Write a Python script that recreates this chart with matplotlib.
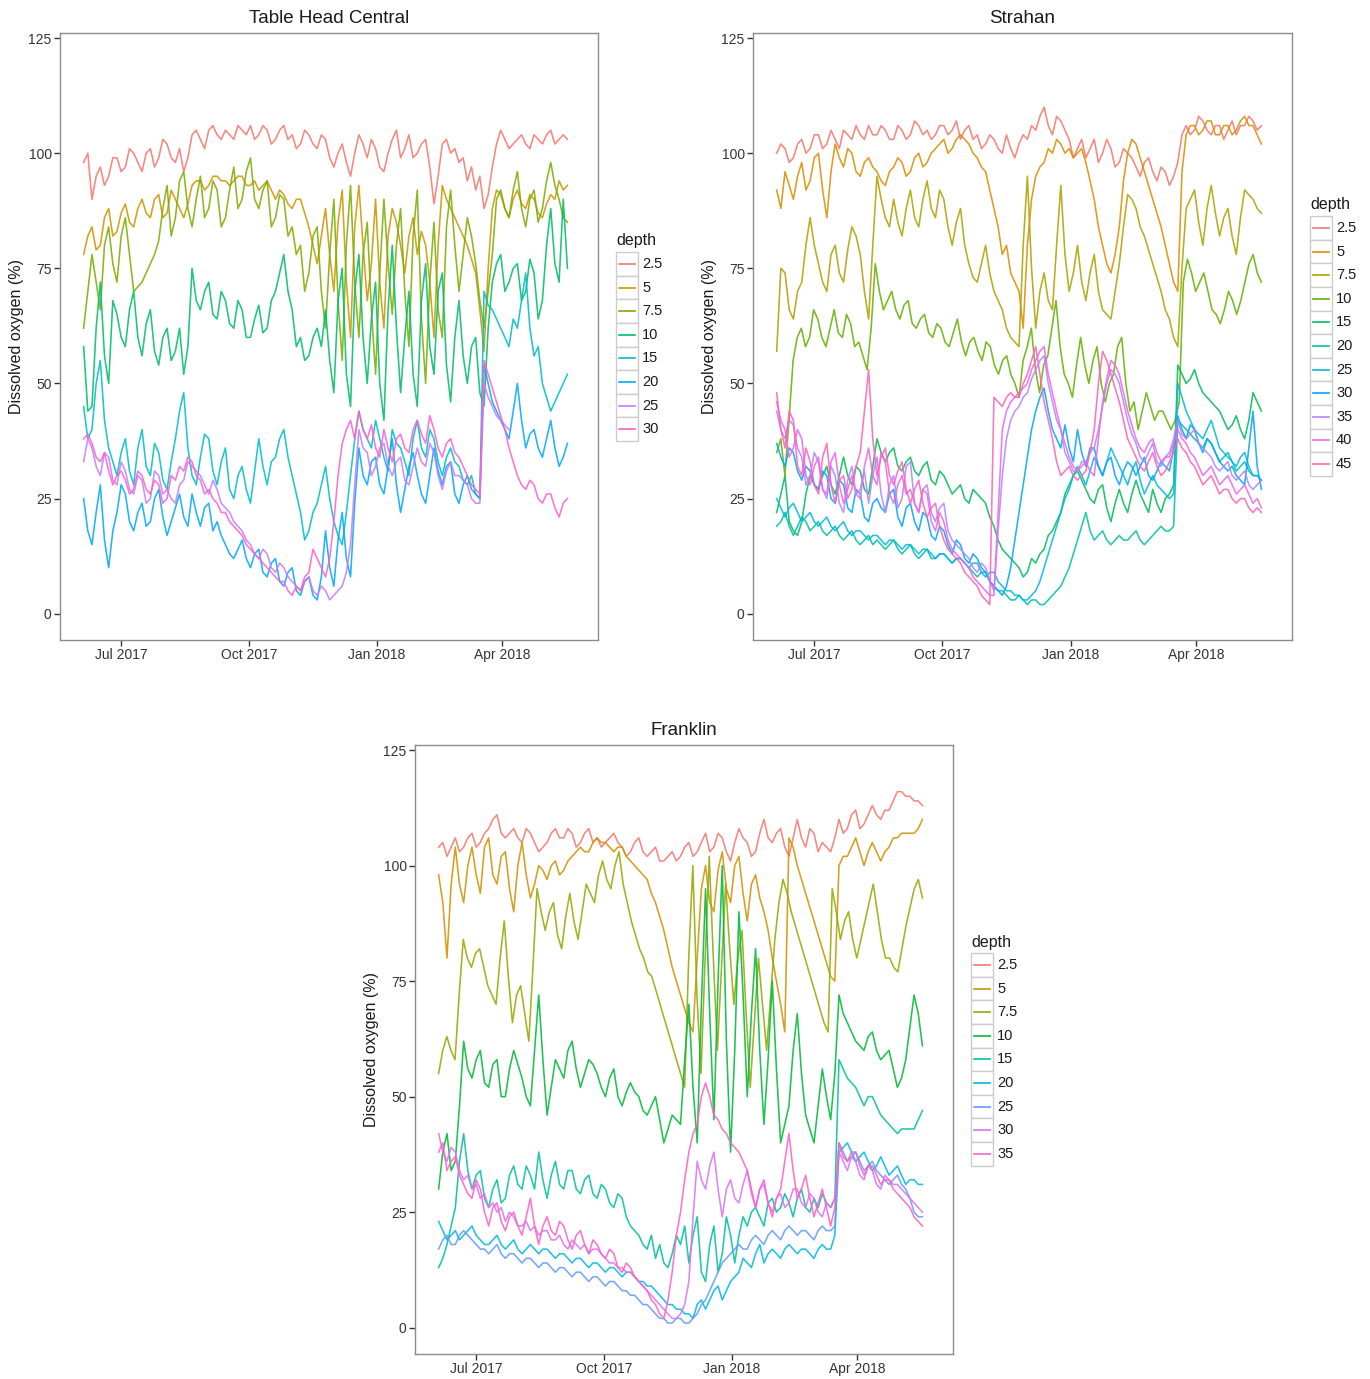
import numpy as np
import pandas as pd
import matplotlib
matplotlib.use("Agg")
import matplotlib.pyplot as plt
import matplotlib.dates as mdates
from matplotlib.patches import Rectangle

plt.rcParams["font.family"] = ["Liberation Sans", "DejaVu Sans"]

# readings are spread evenly from START over 348 days (about every 3 days)
START = "2017-06-04"
SPAN_DAYS = 348

# ---- Table Head Central ----
thc_depths = ["2.5", "5", "7.5", "10", "15", "20", "25", "30"]
thc_d2_5 = [98, 100, 90, 95, 97, 93, 95, 99, 99, 96, 97, 101, 100, 98, 96, 100, 101, 97, 99, 103,
            102, 99, 98, 101, 96, 99, 104, 105, 103, 101, 105, 106, 104, 103, 105, 104, 103, 106, 105, 104,
            106, 103, 104, 106, 105, 102, 103, 105, 106, 103, 104, 101, 102, 105, 104, 102, 101, 104, 103, 99,
            97, 100, 102, 98, 95, 100, 104, 102, 99, 103, 101, 97, 96, 100, 103, 105, 99, 101, 104, 99,
            100, 102, 103, 97, 89, 95, 102, 103, 100, 101, 98, 99, 94, 97, 92, 95, 88, 91, 97, 102,
            105, 103, 101, 102, 103, 104, 102, 101, 104, 103, 102, 104, 105, 102, 103, 104, 103]
thc_d5 = [78, 82, 84, 79, 80, 86, 88, 82, 83, 87, 89, 85, 84, 88, 90, 87, 86, 90, 91, 86,
          87, 92, 90, 88, 86, 89, 93, 94, 94, 92, 93, 95, 95, 94, 94, 93, 94, 95, 95, 93,
          93, 94, 92, 93, 94, 92, 90, 92, 91, 89, 88, 90, 90, 87, 84, 80, 76, 82, 88, 78,
          70, 85, 92, 72, 60, 84, 93, 80, 68, 76, 90, 72, 62, 82, 88, 85, 80, 74, 82, 86,
          78, 83, 80, 72, 60, 80, 93, 90, 88, 86, 84, 82, 80, 77, 74, 66, 57, 75, 88, 92,
          91, 88, 86, 90, 92, 89, 88, 91, 90, 87, 86, 89, 91, 90, 94, 92, 93]
thc_d7_5 = [62, 70, 78, 72, 66, 80, 84, 76, 72, 82, 86, 78, 70, 71, 72, 74, 76, 78, 81, 88,
            93, 82, 86, 94, 96, 88, 84, 90, 95, 86, 88, 94, 92, 84, 86, 92, 97, 88, 90, 96,
            99, 90, 88, 92, 94, 84, 86, 91, 90, 82, 84, 78, 80, 70, 74, 82, 84, 70, 62, 78,
            90, 68, 55, 80, 93, 72, 60, 78, 85, 66, 52, 74, 90, 76, 65, 80, 88, 70, 58, 82,
            92, 64, 50, 72, 85, 66, 60, 84, 92, 80, 70, 78, 86, 82, 76, 68, 62, 70, 78, 90,
            92, 88, 86, 92, 96, 88, 84, 90, 92, 85, 88, 94, 98, 93, 90, 86, 85]
thc_d10 = [58, 44, 45, 62, 72, 56, 50, 68, 65, 60, 58, 66, 70, 60, 56, 63, 66, 57, 54, 60,
           62, 55, 57, 62, 52, 58, 75, 68, 66, 70, 72, 65, 64, 70, 68, 63, 62, 68, 66, 60,
           60, 64, 67, 61, 62, 68, 70, 74, 78, 70, 66, 58, 60, 55, 56, 60, 62, 58, 66, 55,
           48, 68, 75, 52, 45, 70, 78, 60, 50, 64, 72, 50, 42, 66, 80, 62, 48, 60, 70, 52,
           45, 68, 76, 58, 52, 70, 74, 54, 46, 60, 68, 56, 50, 58, 60, 48, 45, 62, 72, 76,
           78, 70, 72, 75, 76, 68, 70, 77, 74, 64, 68, 80, 88, 76, 72, 90, 75]
thc_d15 = [45, 38, 40, 50, 55, 42, 36, 33, 30, 35, 38, 31, 28, 36, 40, 32, 30, 37, 35, 29,
           27, 33, 38, 44, 48, 36, 30, 28, 34, 39, 38, 31, 28, 33, 36, 27, 25, 30, 32, 27,
           24, 31, 38, 32, 28, 33, 34, 38, 40, 34, 30, 26, 22, 16, 18, 22, 24, 28, 32, 25,
           20, 17, 15, 22, 30, 38, 44, 40, 38, 36, 42, 38, 34, 31, 40, 37, 36, 33, 30, 38,
           42, 36, 34, 40, 38, 33, 30, 34, 36, 33, 32, 29, 28, 30, 26, 25, 70, 67, 66, 64,
           62, 60, 58, 64, 62, 68, 74, 62, 56, 58, 50, 47, 44, 46, 48, 50, 52]
thc_d20 = [25, 18, 15, 22, 28, 16, 10, 18, 22, 28, 26, 20, 18, 22, 24, 19, 20, 25, 27, 21,
           17, 20, 23, 26, 21, 19, 26, 22, 19, 23, 24, 18, 20, 17, 15, 13, 12, 14, 16, 12,
           10, 13, 14, 9, 8, 11, 12, 7, 6, 9, 10, 5, 4, 7, 8, 4, 3, 8, 18, 10,
           6, 16, 22, 12, 8, 24, 36, 30, 28, 33, 34, 28, 26, 32, 38, 28, 22, 27, 32, 35,
           30, 26, 24, 30, 36, 31, 28, 32, 33, 26, 24, 28, 30, 27, 26, 25, 54, 50, 46, 44,
           42, 40, 38, 44, 50, 42, 36, 39, 40, 36, 34, 38, 42, 36, 32, 34, 37]
thc_d25 = [33, 38, 36, 32, 30, 35, 34, 29, 28, 33, 31, 27, 26, 30, 29, 24, 25, 31, 30, 26,
           27, 25, 24, 28, 29, 33, 32, 31, 30, 28, 26, 29, 27, 24, 23, 22, 20, 19, 18, 16,
           15, 13, 12, 14, 13, 10, 9, 11, 10, 8, 7, 6, 5, 7, 8, 5, 4, 6, 5, 3,
           4, 5, 6, 9, 15, 28, 40, 36, 35, 30, 32, 36, 37, 32, 30, 33, 34, 29, 28, 32,
           36, 33, 32, 37, 35, 30, 27, 31, 33, 30, 30, 29, 28, 25, 24, 24, 50, 47, 45, 43,
           42, 41, 40]
thc_d25_end_day = 306   # this logger stops in early April 2018
thc_d30 = [38, 39, 37, 34, 33, 35, 31, 28, 30, 31, 29, 26, 27, 31, 30, 27, 26, 29, 28, 24,
           25, 30, 29, 32, 31, 34, 33, 30, 29, 26, 27, 25, 24, 22, 22, 20, 19, 18, 17, 15,
           14, 13, 12, 11, 10, 9, 8, 7, 7, 5, 4, 6, 5, 8, 9, 14, 12, 10, 8, 12,
           20, 30, 37, 40, 42, 38, 44, 40, 38, 41, 36, 34, 40, 36, 33, 38, 39, 36, 35, 40,
           42, 39, 37, 43, 40, 36, 34, 37, 38, 35, 34, 32, 30, 28, 27, 26, 55, 52, 49, 46,
           43, 40, 36, 33, 30, 28, 27, 29, 28, 25, 24, 26, 26, 23, 21, 24, 25]

# ---- Strahan ----
str_depths = ["2.5", "5", "7.5", "10", "15", "20", "25", "30", "35", "40", "45"]
str_d2_5 = [100, 102, 101, 98, 99, 102, 103, 100, 101, 104, 104, 101, 102, 105, 103, 101, 105, 104, 103, 106,
            104, 103, 106, 104, 104, 106, 105, 103, 103, 106, 105, 103, 104, 107, 106, 104, 105, 103, 104, 106,
            106, 104, 105, 107, 103, 105, 106, 103, 104, 101, 102, 104, 103, 101, 100, 104, 101, 99, 102, 104,
            103, 106, 105, 108, 110, 106, 104, 108, 107, 105, 103, 99, 101, 103, 99, 101, 103, 98, 100, 103,
            101, 97, 98, 101, 100, 99, 97, 95, 98, 99, 96, 94, 97, 96, 93, 95, 98, 104, 106, 104,
            105, 108, 107, 105, 104, 106, 106, 103, 105, 107, 104, 106, 106, 108, 107, 105, 106]
str_d5 = [92, 88, 96, 93, 90, 95, 98, 92, 94, 99, 100, 92, 86, 96, 102, 99, 97, 101, 100, 96,
          95, 98, 99, 97, 96, 94, 93, 96, 97, 99, 98, 95, 96, 99, 100, 97, 98, 100, 101, 102,
          103, 100, 101, 103, 104, 103, 102, 100, 99, 97, 96, 92, 88, 84, 78, 80, 74, 72, 70, 62,
          80, 90, 95, 97, 98, 101, 100, 103, 102, 100, 101, 99, 100, 101, 98, 94, 90, 84, 80, 76,
          74, 78, 84, 94, 100, 103, 102, 99, 96, 93, 90, 87, 84, 80, 76, 72, 70, 96, 104, 106,
          106, 104, 105, 107, 107, 104, 104, 106, 106, 104, 105, 107, 108, 106, 106, 104, 102]
str_d7_5 = [57, 75, 74, 66, 64, 70, 72, 80, 86, 80, 76, 72, 70, 78, 80, 74, 72, 79, 84, 82,
            78, 70, 64, 80, 95, 90, 86, 84, 90, 85, 82, 88, 92, 86, 84, 90, 94, 88, 86, 92,
            90, 84, 80, 85, 88, 80, 76, 73, 72, 76, 80, 74, 70, 68, 66, 62, 60, 59, 58, 80,
            95, 75, 62, 70, 74, 68, 66, 80, 93, 78, 70, 74, 80, 72, 68, 74, 78, 70, 66, 65,
            64, 70, 76, 84, 91, 90, 88, 84, 82, 79, 76, 73, 70, 66, 64, 60, 58, 75, 88, 90,
            92, 85, 80, 88, 93, 87, 82, 86, 88, 82, 78, 86, 92, 91, 90, 88, 87]
str_d10 = [35, 38, 30, 42, 55, 60, 62, 58, 60, 66, 64, 60, 58, 62, 66, 61, 60, 65, 63, 58,
           59, 56, 53, 62, 76, 70, 66, 68, 70, 66, 64, 67, 68, 63, 62, 64, 65, 61, 60, 63,
           62, 59, 58, 61, 64, 59, 56, 59, 60, 57, 55, 59, 58, 54, 52, 55, 56, 52, 50, 47,
           55, 58, 62, 53, 48, 54, 56, 62, 68, 58, 52, 50, 47, 54, 60, 54, 50, 55, 58, 50,
           46, 50, 52, 58, 60, 50, 44, 46, 40, 44, 48, 45, 42, 44, 44, 42, 40, 42, 46, 72,
           77, 74, 70, 72, 74, 70, 66, 65, 63, 66, 70, 68, 65, 68, 72, 76, 78, 74, 72]
str_d15 = [22, 26, 30, 20, 18, 17, 20, 26, 30, 28, 27, 30, 32, 28, 26, 30, 34, 30, 28, 32,
           31, 27, 26, 32, 38, 35, 33, 35, 36, 32, 31, 33, 34, 31, 30, 32, 33, 29, 28, 31,
           30, 28, 26, 27, 28, 25, 24, 27, 26, 25, 24, 21, 19, 16, 14, 13, 12, 11, 10, 8,
           9, 12, 11, 13, 14, 17, 18, 20, 22, 26, 28, 30, 31, 29, 27, 25, 24, 27, 28, 23,
           20, 24, 27, 24, 22, 26, 29, 26, 24, 22, 27, 24, 22, 25, 26, 28, 54, 52, 50, 51,
           53, 50, 48, 47, 46, 45, 44, 42, 40, 41, 43, 40, 38, 42, 48, 46, 44]
str_d20 = [19, 20, 22, 19, 17, 19, 21, 20, 18, 19, 20, 18, 17, 18, 19, 17, 16, 17, 18, 16,
           15, 16, 17, 15, 16, 15, 14, 15, 16, 14, 13, 14, 15, 13, 12, 13, 14, 12, 12, 13,
           13, 12, 11, 12, 12, 11, 10, 9, 8, 9, 9, 7, 6, 5, 5, 4, 3, 3, 4, 3,
           2, 3, 3, 2, 2, 3, 4, 5, 6, 8, 10, 13, 16, 19, 22, 18, 16, 17, 18, 16,
           15, 16, 17, 16, 16, 17, 18, 16, 15, 16, 17, 18, 19, 18, 18, 19, 42, 41, 40, 39,
           38, 37, 36, 38, 37, 35, 33, 34, 35, 33, 31, 32, 33, 31, 30, 30, 29]
str_d25 = [25, 23, 21, 23, 24, 22, 20, 21, 22, 20, 19, 20, 21, 19, 18, 19, 20, 18, 17, 18,
           18, 17, 16, 17, 17, 16, 15, 16, 16, 15, 14, 15, 15, 14, 13, 14, 14, 13, 12, 13,
           13, 12, 11, 12, 12, 11, 10, 11, 11, 9, 8, 9, 9, 7, 6, 5, 5, 4, 4, 3,
           3, 4, 5, 7, 10, 13, 16, 19, 22, 25, 27, 30, 32, 30, 28, 31, 34, 32, 30, 33,
           36, 34, 32, 30, 28, 31, 33, 29, 26, 28, 30, 28, 27, 26, 25, 26, 50, 47, 44, 42,
           40, 39, 38, 40, 42, 39, 36, 35, 34, 33, 32, 34, 35, 32, 30, 30, 29]
str_d30 = [37, 34, 32, 36, 35, 31, 29, 32, 31, 28, 27, 31, 30, 25, 24, 29, 28, 23, 22, 27,
           26, 21, 20, 24, 25, 23, 22, 26, 27, 21, 19, 23, 24, 20, 18, 22, 21, 17, 16, 19,
           18, 15, 13, 16, 15, 12, 11, 13, 12, 10, 9, 7, 6, 5, 4, 6, 10, 16, 22, 28,
           34, 40, 44, 47, 49, 44, 40, 38, 36, 41, 36, 33, 40, 35, 32, 36, 36, 32, 30, 33,
           34, 30, 28, 31, 33, 32, 30, 32, 34, 30, 29, 31, 33, 32, 31, 36, 43, 40, 38, 41,
           40, 37, 35, 38, 37, 35, 33, 32, 31, 32, 30, 29, 28, 36, 44, 32, 27]
str_d35 = [44, 40, 38, 42, 41, 36, 34, 28, 30, 35, 33, 27, 25, 32, 30, 24, 22, 29, 32, 26,
           27, 31, 24, 30, 34, 26, 22, 28, 30, 23, 25, 32, 33, 24, 22, 27, 28, 22, 20, 23,
           24, 18, 16, 15, 14, 13, 12, 10, 9, 11, 10, 7, 5, 18, 30, 38, 42, 44, 45, 47,
           48, 51, 53, 55, 56, 50, 46, 42, 40, 35, 33, 31, 31, 33, 33, 35, 36, 40, 45, 50,
           53, 52, 50, 46, 42, 39, 37, 34, 33, 35, 37, 33, 32, 34, 35, 38, 42, 39, 38, 39,
           40, 37, 36, 35, 34, 32, 31, 32, 33, 30, 29, 30, 31, 28, 27, 28, 29]
str_d40 = [46, 42, 40, 34, 36, 40, 38, 30, 28, 32, 34, 27, 26, 33, 35, 28, 24, 27, 30, 26,
           25, 32, 36, 30, 28, 35, 33, 26, 24, 28, 30, 26, 27, 24, 22, 27, 26, 20, 18, 22,
           20, 16, 14, 13, 12, 11, 10, 8, 7, 6, 5, 4, 4, 22, 40, 44, 46, 47, 48, 49,
           50, 53, 55, 57, 58, 52, 48, 44, 40, 37, 34, 32, 31, 32, 33, 31, 30, 38, 46, 51,
           55, 54, 52, 48, 44, 41, 38, 36, 35, 37, 38, 35, 33, 34, 34, 37, 40, 38, 37, 35,
           34, 32, 30, 31, 32, 30, 28, 29, 30, 28, 26, 27, 28, 26, 24, 25, 23]
str_d45 = [48, 40, 36, 44, 42, 32, 30, 36, 33, 28, 26, 34, 37, 28, 24, 29, 30, 25, 27, 32,
           35, 44, 53, 38, 30, 34, 36, 30, 28, 31, 33, 27, 24, 27, 29, 24, 21, 23, 24, 19,
           16, 14, 13, 12, 11, 9, 8, 7, 6, 4, 3, 2, 47, 46, 45, 47, 48, 47, 47, 50,
           52, 55, 58, 52, 46, 42, 38, 33, 30, 31, 32, 30, 29, 30, 31, 35, 40, 50, 57, 55,
           52, 49, 46, 42, 38, 36, 34, 32, 31, 33, 35, 32, 30, 31, 33, 35, 38, 36, 35, 33,
           32, 30, 28, 29, 30, 28, 26, 27, 27, 25, 24, 25, 25, 23, 22, 23, 22]

# ---- Franklin ----
fra_depths = ["2.5", "5", "7.5", "10", "15", "20", "25", "30", "35"]
fra_d2_5 = [104, 105, 102, 104, 106, 103, 104, 106, 107, 104, 105, 107, 108, 110, 111, 107, 106, 107, 108, 106,
            105, 108, 107, 105, 103, 104, 105, 107, 108, 106, 106, 108, 107, 104, 105, 107, 108, 105, 106, 104,
            105, 106, 107, 105, 104, 102, 103, 105, 106, 103, 102, 103, 104, 101, 101, 102, 103, 101, 102, 104,
            105, 102, 103, 105, 107, 103, 104, 107, 106, 103, 101, 105, 108, 106, 105, 102, 103, 107, 110, 106,
            105, 107, 108, 104, 102, 106, 110, 106, 104, 108, 107, 103, 105, 104, 103, 106, 110, 107, 108, 111,
            112, 108, 109, 111, 113, 111, 110, 112, 112, 114, 116, 116, 115, 115, 114, 114, 113]
fra_d5 = [98, 92, 80, 96, 104, 96, 92, 100, 104, 98, 94, 104, 106, 98, 96, 102, 103, 95, 90, 100,
          105, 98, 93, 96, 100, 99, 97, 100, 101, 98, 99, 101, 102, 103, 104, 103, 103, 105, 106, 105,
          105, 104, 103, 104, 104, 102, 101, 100, 99, 98, 97, 94, 92, 89, 86, 82, 78, 75, 72, 69,
          66, 64, 80, 95, 100, 92, 90, 99, 103, 95, 92, 100, 102, 94, 88, 96, 98, 93, 90, 86,
          80, 75, 70, 64, 106, 104, 100, 97, 94, 91, 88, 85, 82, 79, 76, 75, 100, 102, 102, 104,
          106, 103, 100, 103, 105, 103, 101, 103, 104, 106, 106, 107, 107, 107, 107, 108, 110]
fra_d7_5 = [55, 60, 63, 60, 58, 72, 84, 80, 78, 81, 82, 78, 74, 72, 70, 80, 88, 76, 66, 72,
            74, 68, 62, 78, 95, 90, 86, 90, 92, 85, 82, 89, 94, 88, 84, 90, 96, 94, 92, 98,
            101, 97, 95, 100, 103, 96, 92, 88, 85, 82, 80, 77, 76, 73, 70, 67, 64, 61, 58, 55,
            52, 80, 100, 72, 55, 80, 102, 80, 60, 78, 96, 82, 70, 80, 86, 68, 52, 66, 80, 70,
            60, 72, 84, 92, 97, 94, 90, 87, 84, 81, 78, 75, 72, 69, 66, 64, 95, 90, 84, 88,
            90, 84, 80, 84, 88, 92, 96, 90, 84, 80, 80, 78, 77, 82, 87, 91, 95, 97, 93]
fra_d10 = [30, 38, 42, 34, 36, 48, 62, 56, 54, 58, 60, 53, 52, 57, 58, 50, 50, 56, 60, 57,
           54, 50, 48, 60, 72, 58, 46, 52, 58, 56, 54, 60, 62, 56, 52, 55, 58, 57, 55, 52,
           50, 54, 56, 50, 48, 51, 53, 51, 50, 47, 46, 48, 50, 45, 40, 43, 46, 45, 44, 58,
           70, 52, 40, 70, 95, 68, 45, 75, 100, 62, 38, 60, 90, 72, 50, 68, 82, 60, 44, 58,
           75, 56, 40, 44, 48, 60, 68, 55, 46, 43, 40, 48, 56, 50, 45, 55, 72, 68, 66, 64,
           62, 61, 60, 63, 64, 60, 58, 59, 60, 56, 52, 54, 58, 65, 72, 68, 61]
fra_d15 = [13, 15, 18, 22, 26, 36, 42, 34, 30, 33, 34, 28, 26, 30, 32, 27, 28, 33, 35, 31,
           30, 35, 33, 30, 38, 32, 28, 33, 36, 31, 30, 34, 34, 30, 29, 32, 33, 29, 28, 31,
           30, 27, 26, 29, 28, 24, 22, 21, 20, 18, 17, 20, 15, 18, 14, 13, 16, 20, 18, 22,
           14, 20, 24, 12, 10, 18, 22, 12, 16, 24, 20, 14, 20, 24, 22, 25, 26, 24, 22, 27,
           28, 25, 26, 29, 27, 24, 28, 30, 26, 25, 28, 26, 29, 27, 26, 28, 58, 56, 54, 53,
           52, 50, 48, 50, 50, 48, 46, 45, 44, 43, 42, 43, 43, 43, 43, 45, 47]
fra_d20 = [23, 21, 19, 20, 21, 19, 20, 21, 22, 20, 19, 18, 18, 19, 20, 18, 17, 18, 19, 17,
           16, 17, 18, 17, 16, 17, 17, 16, 15, 16, 16, 15, 14, 15, 15, 14, 13, 14, 14, 13,
           12, 13, 13, 12, 11, 12, 12, 11, 10, 10, 9, 9, 8, 7, 6, 5, 5, 4, 4, 3,
           3, 2, 5, 6, 4, 6, 8, 9, 6, 8, 10, 11, 12, 15, 14, 13, 16, 18, 14, 16,
           17, 16, 15, 17, 18, 17, 16, 17, 17, 16, 15, 17, 18, 17, 17, 20, 38, 39, 40, 38,
           36, 37, 38, 36, 34, 35, 37, 35, 33, 34, 35, 33, 31, 32, 32, 31, 31]
fra_d25 = [17, 19, 20, 18, 18, 20, 21, 20, 19, 18, 17, 17, 16, 17, 18, 16, 15, 16, 16, 15,
           14, 15, 15, 14, 13, 14, 14, 13, 12, 13, 13, 12, 11, 12, 12, 11, 10, 11, 11, 10,
           9, 10, 10, 9, 8, 8, 7, 7, 6, 5, 5, 4, 3, 2, 2, 1, 1, 2, 2, 1,
           1, 2, 3, 5, 6, 8, 10, 12, 14, 15, 16, 17, 18, 17, 17, 19, 20, 19, 18, 20,
           21, 20, 19, 21, 22, 21, 20, 21, 21, 20, 19, 21, 22, 21, 21, 22, 40, 38, 36, 37,
           38, 36, 34, 35, 36, 34, 33, 32, 31, 32, 33, 31, 30, 28, 25, 24, 24]
fra_d30 = [42, 38, 36, 39, 38, 34, 32, 33, 30, 31, 28, 29, 26, 27, 25, 26, 23, 25, 24, 22,
           22, 23, 21, 22, 20, 21, 21, 19, 19, 20, 18, 17, 19, 18, 17, 18, 16, 17, 17, 16,
           15, 14, 14, 13, 13, 12, 12, 11, 10, 9, 8, 7, 6, 5, 4, 3, 2, 2, 3, 5,
           10, 24, 36, 32, 30, 35, 38, 30, 24, 30, 32, 28, 27, 31, 34, 29, 26, 30, 31, 27,
           25, 28, 29, 26, 27, 30, 30, 27, 26, 29, 28, 25, 24, 27, 26, 28, 38, 36, 34, 37,
           36, 33, 32, 35, 34, 31, 30, 33, 32, 31, 31, 30, 29, 28, 27, 26, 25]
fra_d35 = [38, 40, 34, 36, 37, 33, 31, 29, 28, 32, 30, 25, 22, 26, 27, 23, 21, 24, 25, 22,
           20, 24, 28, 22, 18, 22, 24, 21, 20, 23, 22, 19, 17, 20, 21, 18, 16, 19, 18, 16,
           15, 17, 16, 13, 12, 14, 13, 11, 10, 9, 8, 6, 5, 3, 2, 6, 12, 20, 25, 32,
           38, 42, 44, 50, 53, 50, 46, 45, 43, 42, 40, 39, 38, 36, 34, 30, 26, 30, 32, 27,
           24, 28, 30, 36, 42, 34, 28, 30, 33, 28, 24, 27, 30, 26, 22, 26, 40, 37, 36, 38,
           38, 35, 33, 35, 35, 33, 31, 32, 32, 30, 29, 28, 27, 26, 24, 23, 22]

thc_series = [thc_d2_5, thc_d5, thc_d7_5, thc_d10, thc_d15, thc_d20, thc_d25, thc_d30]
str_series = [str_d2_5, str_d5, str_d7_5, str_d10, str_d15, str_d20, str_d25, str_d30,
              str_d35, str_d40, str_d45]
fra_series = [fra_d2_5, fra_d5, fra_d7_5, fra_d10, fra_d15, fra_d20, fra_d25, fra_d30, fra_d35]

# ggplot hue palettes
pal8 = ["#F8766D", "#CD9600", "#7CAE00", "#00BE67", "#00BFC4", "#00A9FF", "#C77CFF", "#FF61CC"]
pal9 = ["#F8766D", "#D39200", "#93AA00", "#00BA38", "#00C19F", "#00B9E3", "#619CFF", "#DB72FB", "#FF61C3"]
pal11 = ["#F8766D", "#DB8E00", "#AEA200", "#64B200", "#00BD5C", "#00C1A7", "#00BADE", "#00A6FF",
         "#B385FF", "#EF67EB", "#FF63B6"]

W, H = 1370, 1379
fig = plt.figure(figsize=(W / 100, H / 100), dpi=100)
fig.patch.set_facecolor("white")


def px_axes(left, top, right, bottom):
    return fig.add_axes([left / W, 1 - bottom / H, (right - left) / W, (bottom - top) / H])


def series_dates(n, end_day=SPAN_DAYS):
    days = np.linspace(0, end_day, n)
    return pd.Timestamp(START) + pd.to_timedelta(days, unit="D")


def draw_panel(ax, title, series, colors, end_days=None):
    end_days = end_days or {}
    for i, (vals, col) in enumerate(zip(series, colors)):
        dates = series_dates(len(vals), end_days.get(i, SPAN_DAYS))
        ax.plot(dates, vals, color=col, lw=1.15, alpha=0.88)
    ax.set_xlim(pd.Timestamp("2017-05-18"), pd.Timestamp("2018-06-09"))
    ax.set_ylim(-5.7, 126.1)
    ax.set_yticks([0, 25, 50, 75, 100, 125])
    ax.set_xticks(pd.to_datetime(["2017-07-01", "2017-10-01", "2018-01-01", "2018-04-01"]))
    ax.xaxis.set_major_formatter(mdates.DateFormatter("%b %Y"))
    ax.tick_params(direction="out", length=4, width=1, color="#333333",
                   labelcolor="#333333", labelsize=10, pad=2)
    for sp in ax.spines.values():
        sp.set_color("#8c8c8c")
        sp.set_linewidth(1)
    ax.set_title(title, fontsize=13.5, pad=7, color="#1a1a1a")
    ax.set_ylabel("Dissolved oxygen (%)", fontsize=11.5, color="#1a1a1a")
    ax.yaxis.set_label_coords(-0.066, 0.5)


ax1 = px_axes(60, 33, 598, 640)
ax2 = px_axes(753, 33, 1292, 640)
ax3 = px_axes(415, 745, 953, 1354)
draw_panel(ax1, "Table Head Central", thc_series, pal8, end_days={6: thc_d25_end_day})
draw_panel(ax2, "Strahan", str_series, pal11)
draw_panel(ax3, "Franklin", fra_series, pal9)

# legends drawn ggplot style on an overlay in pixel units
ov = fig.add_axes([0, 0, 1, 1], zorder=-1)
ov.set_xlim(0, W)
ov.set_ylim(H, 0)
ov.axis("off")


def draw_legend(x, y_title, labels, colors):
    ov.text(x, y_title, "depth", fontsize=11.5, va="center", ha="left", color="#1a1a1a")
    for i, (lab, col) in enumerate(zip(labels, colors)):
        yc = y_title + 23 + 23.6 * i
        ov.add_patch(Rectangle((x, yc - 11.8), 22, 23.6, facecolor="white",
                               edgecolor="#cccccc", lw=1))
        ov.plot([x + 3, x + 19], [yc, yc], color=col, lw=1.2)
        ov.text(x + 26, yc, lab, fontsize=10.5, va="center", ha="left", color="#1a1a1a")


draw_legend(616, 241, thc_depths, pal8)
draw_legend(1310, 205, str_depths, pal11)
draw_legend(971, 942, fra_depths, pal9)

fig.savefig("out.png", dpi=100, facecolor="white")
